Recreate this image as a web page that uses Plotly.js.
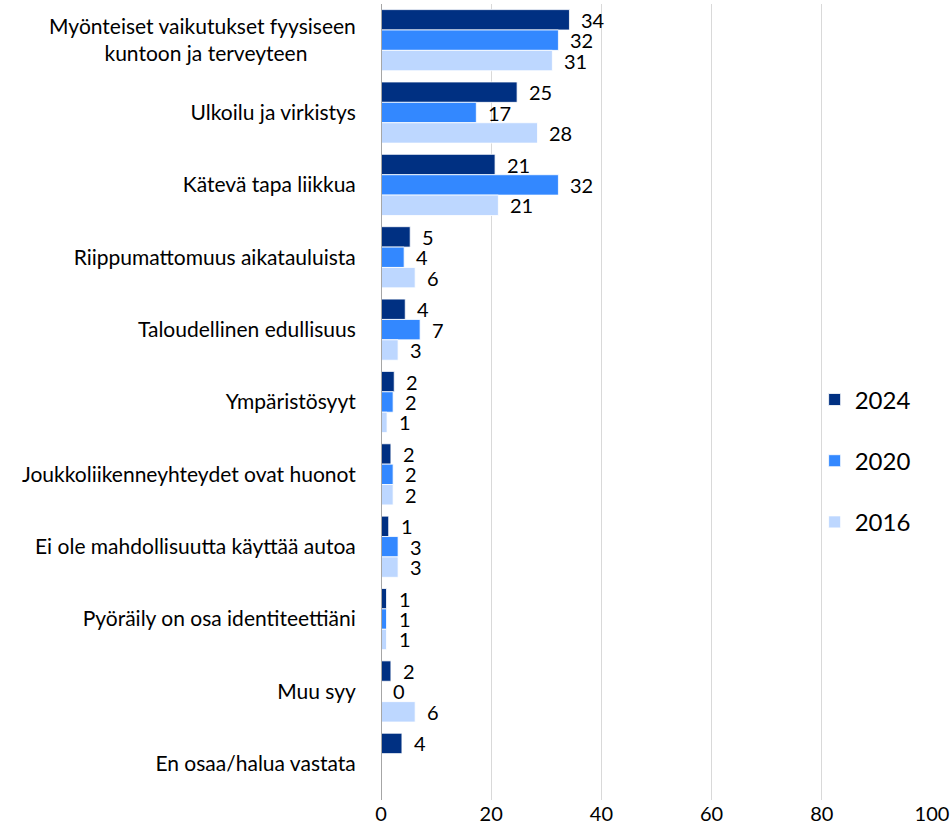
<!DOCTYPE html>
<html>
<head>
<meta charset="utf-8">
<script src="https://cdn.plot.ly/plotly-3.0.1.min.js"></script>
<style>html,body{margin:0;padding:0;background:#fff;}#chart{width:951px;height:840px;}</style>
</head>
<body>
<div id="chart"></div>
<script>
const categories = [
  "Myönteiset vaikutukset fyysiseen<br>kuntoon ja terveyteen\u00a0\u00a0\u00a0\u00a0\u00a0\u00a0\u00a0\u00a0\u00a0",
  "Ulkoilu ja virkistys",
  "Kätevä tapa liikkua",
  "Riippumattomuus aikatauluista",
  "Taloudellinen edullisuus",
  "Ympäristösyyt",
  "Joukkoliikenneyhteydet ovat huonot",
  "Ei ole mahdollisuutta käyttää autoa",
  "Pyöräily on osa identiteettiäni",
  "Muu syy",
  "En osaa/halua vastata"
];
const years = ["2024", "2020", "2016"];
const v2024 = [34.2, 24.7, 20.7, 5.3, 4.4, 2.4, 1.8, 1.4, 1.0, 1.8, 3.8];
const v2020 = [32.2, 17.3, 32.2, 4.2, 7.1, 2.2, 2.2, 3.1, 1.0, 0, null];
const v2016 = [31.1, 28.4, 21.3, 6.2, 3.1, 1.1, 2.2, 3.1, 1.0, 6.2, null];
const series = [v2024, v2020, v2016];
const colors = ["#003082", "#3388FF", "#BDD7FF"];

const FONT = "Lato, 'Open Sans', sans-serif";
const idx = categories.map((c, i) => i);
const bargap = 0.155;
const w = (1 - bargap) / 3;

const traces = series.map((vals, j) => ({
  type: "bar",
  orientation: "h",
  name: years[j],
  legendgroup: years[j],
  x: vals,
  y: idx,
  marker: {color: colors[j], line: {color: "#ffffff", width: 0.8}},
  hoverinfo: "x+name"
}));

const annotations = [];
series.forEach((vals, j) => {
  vals.forEach((v, i) => {
    if (v === null) return;
    annotations.push({
      x: v, y: i + (j - 1) * w, xref: "x", yref: "y",
      text: String(Math.round(v)),
      showarrow: false, xanchor: "left", yanchor: "middle",
      xshift: 10,
      font: {family: FONT, size: 20, color: "#000"}
    });
  });
});

const layout = {
  width: 951, height: 840,
  margin: {l: 381, r: 19, t: 4, b: 40},
  paper_bgcolor: "#fff", plot_bgcolor: "#fff",
  barmode: "group", bargap: bargap, bargroupgap: 0,
  font: {family: FONT, size: 21, color: "#000"},
  xaxis: {
    range: [0, 100], tickvals: [0, 20, 40, 60, 80, 100],
    showgrid: true, gridcolor: "#d9d9d9", gridwidth: 1,
    zeroline: false, showline: false, ticks: "",
    tickfont: {family: FONT, size: 20, color: "#000"}, fixedrange: true
  },
  yaxis: {
    range: [10.5, -0.5], tickvals: idx, ticktext: categories,
    showgrid: false, zeroline: false,
    showline: false, ticks: "outside", ticklen: 20, tickcolor: "rgba(0,0,0,0)",
    tickfont: {family: FONT, size: 21, color: "#000"}, fixedrange: true
  },
  shapes: [{type: "line", xref: "x", yref: "paper", x0: 0, x1: 0, y0: 0, y1: 1,
            line: {color: "#a6a6a6", width: 2}}],
  legend: {
    x: 0.787, y: 0.426, xanchor: "left", yanchor: "middle",
    traceorder: "grouped", tracegroupgap: 27,
    font: {family: FONT, size: 24, color: "#000"},
    itemwidth: 30, bgcolor: "rgba(0,0,0,0)"
  },
  annotations: annotations,
  showlegend: true
};

Plotly.newPlot("chart", traces, layout, {displayModeBar: false, staticPlot: true});
</script>
</body>
</html>
